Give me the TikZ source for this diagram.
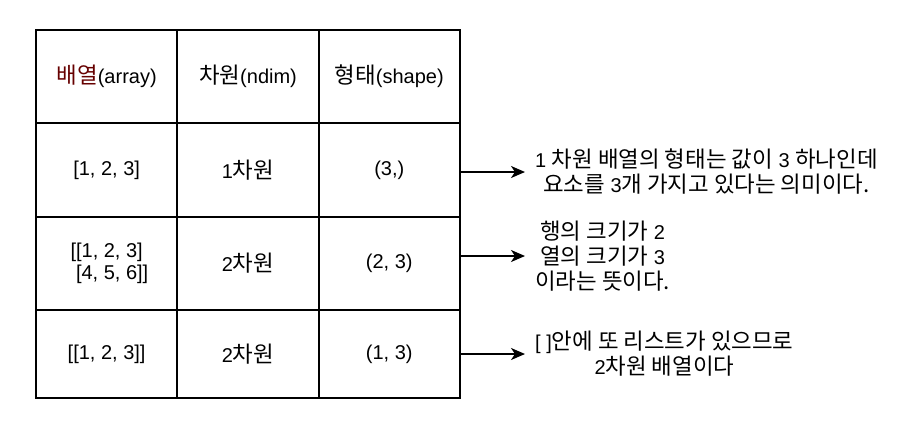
\documentclass[tikz,border=0pt]{standalone}
\usepackage{fontspec}
\setmainfont{Liberation Sans}
\newfontfamily\kr[Scale=1.12]{Noto Sans CJK KR}
\newcommand{\kor}[1]{{\kr #1}}
\usetikzlibrary{positioning, arrows.meta}
\definecolor{hdrred}{HTML}{660000}
\tikzstyle{cell} = [rectangle, draw=black, line width=2pt, minimum width=141.3pt, inner sep=0pt, outer sep=0pt, text centered, align=center]
\tikzstyle{note} = [align=center, inner xsep=10pt, anchor=west]
\tikzstyle{arrow} = [line width=2pt, -{Stealth[length=14pt, width=12pt, inset=4pt]}]

\begin{document}
\begin{tikzpicture}[x=1pt, y=-1pt, font=\fontsize{20pt}{25pt}\selectfont]
	\useasboundingbox (0,0) rectangle (916,426);
	% header row
	\node (harr) [cell, minimum height=93pt, anchor=north west] at (36,30) {\textcolor{hdrred}{\kor{배열}}(array)};
	\node (hdim) [cell, minimum height=93pt, right=0pt of harr] {\kor{차원}(ndim)};
	\node (hshp) [cell, minimum height=93pt, right=0pt of hdim] {\kor{형태}(shape)};
	% 1st row
	\node (a1) [cell, minimum height=94pt, below=0pt of harr] {[1, 2, 3]};
	\node (d1) [cell, minimum height=94pt, right=0pt of a1] {1\kor{차원}};
	\node (s1) [cell, minimum height=94pt, right=0pt of d1] {(3,)};
	% 2nd row
	\node (a2) [cell, minimum height=93pt, below=0pt of a1, font=\fontsize{20pt}{22pt}\selectfont] {[[1, 2, 3]\\\hspace*{11pt}[4, 5, 6]]};
	\node (d2) [cell, minimum height=93pt, right=0pt of a2] {2\kor{차원}};
	\node (s2) [cell, minimum height=93pt, right=0pt of d2] {(2, 3)};
	% 3rd row
	\node (a3) [cell, minimum height=88pt, below=0pt of a2] {[[1, 2, 3]]};
	\node (d3) [cell, minimum height=88pt, right=0pt of a3] {2\kor{차원}};
	\node (s3) [cell, minimum height=88pt, right=0pt of d3] {(1, 3)};
	% notes
	\node (n1) [note] at (525,172) {1 \kor{차원 배열의 형태는 값이} 3 \kor{하나인데}\\\kor{요소를} 3\kor{개 가지고 있다는 의미이다.}};
	\node (n2) [note] at (525,256) {\kor{행의 크기가} 2\\\kor{열의 크기가} 3\\\kor{이라는 뜻이다.}};
	\node (n3) [note] at (525,354) {[ ]\kor{안에 또 리스트가 있으므로}\\2\kor{차원 배열이다}};

	\draw [arrow] (s1.east |- n1.west) -- (n1.west);
	\draw [arrow] (s2.east |- n2.west) -- (n2.west);
	\draw [arrow] (s3.east |- n3.west) -- (n3.west);
\end{tikzpicture}
\end{document}
